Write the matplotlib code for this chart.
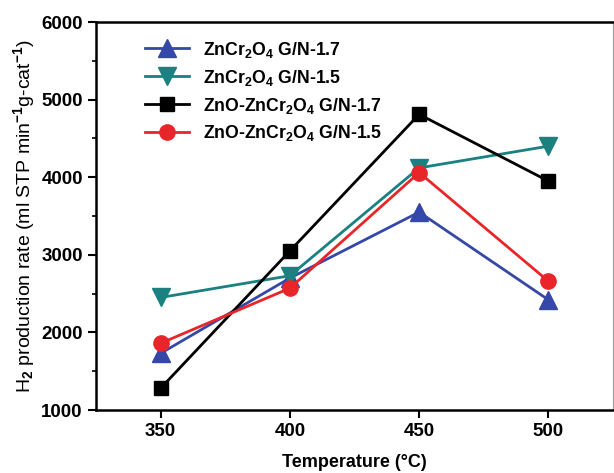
import numpy as np
import matplotlib.pyplot as plt

plt.rcParams['font.family'] = ['Liberation Sans', 'DejaVu Sans']
plt.rcParams['mathtext.fontset'] = 'custom'
plt.rcParams['mathtext.rm'] = 'Liberation Sans:bold'
plt.rcParams['mathtext.it'] = 'Liberation Sans:bold'
plt.rcParams['mathtext.bf'] = 'Liberation Sans:bold'

temps = [350, 400, 450, 500]
zc_17 = [1730, 2700, 3550, 2420]
zc_15 = [2450, 2730, 4120, 4400]
zo_17 = [1280, 3050, 4810, 3950]
zo_15 = [1860, 2570, 4060, 2660]

labels = ['ZnCr$_2$O$_4$ G/N-1.7',
          'ZnCr$_2$O$_4$ G/N-1.5',
          'ZnO-ZnCr$_2$O$_4$ G/N-1.7',
          'ZnO-ZnCr$_2$O$_4$ G/N-1.5']

fig = plt.figure(figsize=(6.14, 4.73), dpi=100)
ax = fig.add_axes([96/614, 63/473, (613-96)/614, (410-22)/473])

ax.plot(temps, zc_17, '-^', color='#3548a8', lw=2, ms=13, label=labels[0])
ax.plot(temps, zc_15, '-v', color='#1a8080', lw=2, ms=13, label=labels[1])
ax.plot(temps, zo_17, '-s', color='black', lw=2, ms=10, label=labels[2])
ax.plot(temps, zo_15, '-o', color='#e8262a', lw=2, ms=11, label=labels[3])

ax.set_xlim(325, 525)
ax.set_ylim(1000, 6000)
ax.set_xticks(temps)
ax.set_yticks([1000, 2000, 3000, 4000, 5000, 6000])
ax.set_yticks([1500, 2500, 3500, 4500, 5500], minor=True)
ax.tick_params(axis='both', which='major', direction='out', length=6, width=1.5, labelsize=13.5)
ax.tick_params(axis='y', which='minor', direction='out', length=3, width=1.2)
for t in ax.get_xticklabels() + ax.get_yticklabels():
    t.set_fontweight('bold')

ax.spines['left'].set_linewidth(1.8)
ax.spines['bottom'].set_linewidth(1.8)
ax.spines['top'].set_linewidth(1.8)
ax.spines['right'].set_linewidth(0.8)
ax.spines['right'].set_color('#999999')

ax.set_xlabel('Temperature (°C)', fontsize=13, fontweight='bold', labelpad=10)
ax.set_ylabel('H$_2$ production rate (ml STP min$^{-1}$g-cat$^{-1}$)', fontsize=14, labelpad=3)

leg = ax.legend(loc='upper left', frameon=False, fontsize=12.7, handlelength=2.5,
                borderaxespad=0.6, labelspacing=0.45, bbox_to_anchor=(0.06, 1.0))
for t in leg.get_texts():
    t.set_fontweight('bold')

fig.savefig('out.png', dpi=100)
